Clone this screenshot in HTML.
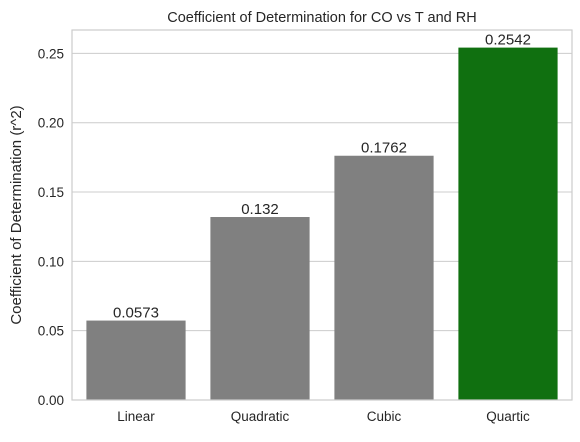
<!DOCTYPE html>
<html><head><meta charset="utf-8"><style>
body{margin:0;background:#fff;font-family:"Liberation Sans","DejaVu Sans",sans-serif;}
</style></head><body>
<svg id="chart" width="580" height="437" xmlns="http://www.w3.org/2000/svg"></svg>
<script>
const categories=["Linear","Quadratic","Cubic","Quartic"];
const values=[0.0573,0.132,0.1762,0.2542];
const valueLabels=["0.0573","0.132","0.1762","0.2542"];
const barColors=["#808080","#808080","#808080","#107010"];
const yTicks=[0,0.05,0.10,0.15,0.20,0.25];
const yTickLabels=["0.00","0.05","0.10","0.15","0.20","0.25"];

const L=72,R=572,T=30,B=400,yMax=0.2669;
const BL=74,BR=570;
const svg=document.getElementById('chart');
const NS="http://www.w3.org/2000/svg";
function y(v){return B-(v/yMax)*(B-T);}
const band=(BR-BL)/categories.length;
function xc(i){return BL+band*(i+0.5);}
function mk(tag,attrs,parent){const e=document.createElementNS(NS,tag);for(const k in attrs)e.setAttribute(k,attrs[k]);(parent||svg).appendChild(e);return e;}

yTicks.forEach((t,i)=>{
  const g=mk('line',{x1:L,x2:R,y1:y(t),y2:y(t),stroke:'#cccccc','stroke-width':1});
  
  
  const tx=mk('text',{x:L-8,y:y(t)+5,'text-anchor':'end','font-size':13.5,fill:'#262626'});
  tx.textContent=yTickLabels[i];
  
  
});

categories.forEach((c,i)=>{
  const w=band*0.8;
  const r=mk('rect',{x:xc(i)-w/2,y:y(values[i]),width:w,height:B-y(values[i]),fill:barColors[i]});
  
  
  const vl=mk('text',{x:xc(i),y:y(values[i])-3,'text-anchor':'middle','font-size':15,fill:'#262626'});
  vl.textContent=valueLabels[i];
  
  
  const xl=mk('text',{x:xc(i),y:B+21,'text-anchor':'middle','font-size':13.5,fill:'#262626'});
  xl.textContent=c;
  
  
});

const frame=mk('rect',{x:L,y:T,width:R-L,height:B-T,fill:'none',stroke:'#cccccc','stroke-width':1.2});



const title=mk('text',{x:(L+R)/2,y:T-8,'text-anchor':'middle','font-size':14.5,fill:'#262626'});
title.textContent="Coefficient of Determination for CO vs T and RH";



const yt=mk('text',{x:0,y:0,'text-anchor':'middle','font-size':15,fill:'#262626',transform:`translate(21,${(T+B)/2}) rotate(-90)`});
yt.textContent="Coefficient of Determination (r^2)";


</script>
</body></html>
